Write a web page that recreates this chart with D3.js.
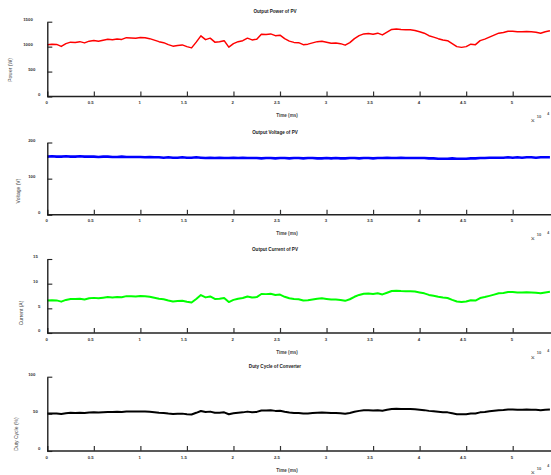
<!DOCTYPE html>
<html>
<head>
<meta charset="utf-8">
<script src="https://cdn.jsdelivr.net/npm/d3@7"></script>
<style>
body { margin: 0; background: #fff; }
svg { display: block; font-family: "Liberation Sans", Arial, sans-serif; }
</style>
</head>
<body>
<svg id="chart" width="551" height="475"></svg>
<script>
// time axis is in units of 10^4 ms, samples every 0.05
const timeTicks = [0, 0.5, 1, 1.5, 2, 2.5, 3, 3.5, 4, 4.5, 5];
const sampleStep = 0.05;

const power = [
    1040, 1050, 1045, 1005, 1060, 1090, 1085, 1100, 1075, 1110, 1125,
    1110, 1130, 1150, 1140, 1155, 1145, 1180, 1175, 1170, 1185,
    1180, 1160, 1130, 1100, 1080, 1040, 1010, 1025, 1035, 1000,
    975, 1090, 1215, 1140, 1170, 1090, 1100, 1120, 990, 1060,
    1100, 1120, 1170, 1135, 1150, 1250, 1245, 1255, 1220, 1230,
    1160, 1110, 1085, 1080, 1040, 1050, 1075, 1100, 1110, 1090,
    1070, 1075, 1060, 1030, 1080, 1160, 1220, 1255, 1265, 1250,
    1270, 1235, 1290, 1345, 1355, 1345, 1340, 1340, 1325, 1300,
    1270, 1220, 1190, 1160, 1135, 1120, 1060, 1000, 985, 1000,
    1050, 1040, 1120, 1150, 1190, 1230, 1270, 1285, 1310, 1310,
    1300, 1300, 1305, 1300, 1290, 1270, 1300, 1320
];

const voltage = [
    161, 162, 161, 161, 162, 161, 161, 162, 161, 161, 161,
    160, 161, 161, 160, 160, 161, 160, 160, 160, 160,
    159, 160, 159, 159, 158, 159, 158, 158, 159, 158,
    158, 159, 158, 157, 158, 157, 158, 157, 157, 158,
    157, 158, 157, 157, 157, 156, 157, 157, 156, 157,
    157, 156, 157, 157, 156, 157, 157, 156, 156, 157,
    156, 157, 156, 156, 157, 157, 156, 157, 157, 156,
    157, 157, 158, 157, 157, 158, 157, 157, 157, 157,
    157, 156, 156, 155, 155, 155, 156, 155, 155, 155,
    156, 156, 157, 157, 158, 158, 158, 158, 159, 158,
    159, 158, 159, 159, 158, 159, 159, 159
];

const current = [
    6.58, 6.65, 6.61, 6.36, 6.71, 6.90, 6.87, 6.96, 6.80, 7.03, 7.12,
    7.03, 7.15, 7.28, 7.22, 7.31, 7.25, 7.47, 7.44, 7.41, 7.50,
    7.47, 7.34, 7.15, 6.96, 6.84, 6.58, 6.39, 6.49, 6.55, 6.33,
    6.17, 6.90, 7.69, 7.22, 7.41, 6.90, 6.96, 7.09, 6.27, 6.71,
    6.96, 7.09, 7.41, 7.18, 7.28, 7.91, 7.88, 7.94, 7.72, 7.78,
    7.34, 7.03, 6.87, 6.84, 6.58, 6.65, 6.80, 6.96, 7.03, 6.90,
    6.77, 6.80, 6.71, 6.52, 6.84, 7.34, 7.72, 7.94, 8.01, 7.91,
    8.04, 7.82, 8.16, 8.51, 8.58, 8.51, 8.48, 8.48, 8.39, 8.23,
    8.04, 7.72, 7.53, 7.34, 7.18, 7.09, 6.71, 6.40, 6.30, 6.40,
    6.65, 6.58, 7.09, 7.28, 7.53, 7.78, 8.04, 8.13, 8.29, 8.29,
    8.23, 8.23, 8.26, 8.23, 8.16, 8.04, 8.23, 8.35
];

const duty = [
    50.4, 50.6, 50.5, 49.7, 50.8, 51.4, 51.3, 51.6, 51.1, 51.8, 52.1,
    51.8, 52.2, 52.6, 52.4, 52.7, 52.5, 53.2, 53.1, 53.0, 53.3,
    53.2, 52.8, 52.2, 51.6, 51.2, 50.4, 49.8, 50.1, 50.3, 49.6,
    49.1, 51.4, 53.9, 52.4, 53.0, 51.4, 51.6, 52.0, 49.4, 50.8,
    51.6, 52.0, 53.0, 52.3, 52.6, 54.6, 54.5, 54.7, 54.0, 54.2,
    52.8, 51.8, 51.3, 51.2, 50.4, 50.6, 51.1, 51.6, 51.8, 51.4,
    51.0, 51.1, 50.8, 50.2, 51.2, 52.8, 54.0, 54.7, 54.9, 54.6,
    55.0, 54.3, 55.4, 56.5, 56.7, 56.5, 56.4, 56.4, 56.1, 55.6,
    55.0, 54.0, 53.4, 52.8, 52.3, 52.0, 50.8, 49.6, 49.3, 49.6,
    50.6, 50.4, 52.0, 52.6, 53.4, 54.2, 55.0, 55.3, 55.8, 55.8,
    55.6, 55.6, 55.7, 55.6, 55.4, 55.0, 55.6, 56.0
];

const titles = ["Output Power of PV", "Output Voltage of PV", "Output Current of PV", "Duty Cycle of Converter"];
const yLabels = ["Power (W)", "Voltage (V)", "Current (A)", "Duty Cycle (%)"];
const yDomains = [[0, 1500], [0, 200], [0, 15], [0, 100]];
const yTicks = [[0, 500, 1000, 1500], [0, 100, 200], [0, 5, 10, 15], [0, 50, 100]];

const times = power.map((d, i) => i * sampleStep);

const panels = [
    { values: power,   color: "#ff0000", width: 1.5, top: 21.7,  bottom: 96.5,  ylab: [10.5, 70],  exp: 0 },
    { values: voltage, color: "#0000ff", width: 2.6, top: 142.5, bottom: 214.8, ylab: [18, 191],   exp: 0 },
    { values: current, color: "#00ff00", width: 2.0, top: 259,   bottom: 333,   ylab: [21, 313],   exp: 0 },
    { values: duty,    color: "#000000", width: 2.0, top: 376.7, bottom: 451,   ylab: [16.5, 434], exp: -2.5 }
];

const svg = d3.select("#chart");

const x = d3.scaleLinear().domain([0, 5]).range([47.3, 512.7]);
const plain = d3.format("");

panels.forEach((p, i) => {
    const y = d3.scaleLinear().domain(yDomains[i]).range([p.bottom, p.top]);
    const g = svg.append("g");

    // data line
    const line = d3.line()
        .x((d, j) => x(times[j]))
        .y(d => y(d));
    g.append("path")
        .datum(p.values)
        .attr("fill", "none")
        .attr("stroke", p.color)
        .attr("stroke-width", p.width)
        .attr("stroke-linejoin", "round")
        .attr("d", line);

    // x axis
    const xAxis = g.append("g")
        .attr("transform", `translate(0,${p.bottom})`)
        .call(d3.axisBottom(x).tickValues(timeTicks).tickSize(-5).tickSizeOuter(0).tickFormat(plain));
    xAxis.select(".domain")
        .attr("d", `M${x.range()[0]},0H551`)
        .attr("stroke", "#222")
        .attr("stroke-width", 1.6);
    xAxis.selectAll(".tick line").attr("stroke", "#333").attr("stroke-width", 1.2);
    xAxis.selectAll(".tick text")
        .attr("y", 0)
        .attr("dy", 0)
        .attr("transform", "translate(0,7.5)")
        .attr("x", d => -1.2 * String(d).length)
        .attr("font-size", 4.3)
        .attr("font-weight", "bold")
        .attr("fill", "#333");

    // y axis
    const yAxis = g.append("g")
        .attr("transform", `translate(${x.range()[0]},0)`)
        .call(d3.axisLeft(y).tickValues(yTicks[i]).tickSize(-5).tickSizeOuter(0).tickFormat(plain));
    yAxis.select(".domain").attr("stroke", "#111").attr("stroke-width", 1.3);
    yAxis.selectAll(".tick line").attr("stroke", "#222").attr("stroke-width", 1.1);
    yAxis.selectAll(".tick text")
        .attr("text-anchor", "middle")
        .attr("x", d => 43 - 3.75 * String(d).length - x.range()[0])
        .attr("dy", -1.2)
        .attr("font-size", 4.3)
        .attr("font-weight", "bold")
        .attr("fill", "#333");
    g.selectAll(".domain, .tick, .tick text").attr("font-family", null);

    // title
    g.append("text")
        .attr("x", 275)
        .attr("y", p.top - 8.5)
        .attr("text-anchor", "middle")
        .attr("font-size", 4.6)
        .attr("font-weight", "bold")
        .attr("fill", "#222")
        .text(titles[i]);

    // x label
    g.append("text")
        .attr("x", 287)
        .attr("y", p.bottom + 20.5)
        .attr("text-anchor", "middle")
        .attr("font-size", 4.6)
        .attr("font-weight", "bold")
        .attr("fill", "#444")
        .text("Time (ms)");

    // y label
    g.append("text")
        .attr("transform", `translate(${p.ylab[0] + 1.5},${p.ylab[1]}) rotate(-90)`)
        .attr("text-anchor", "middle")
        .attr("font-size", 5)
        .attr("fill", "#444")
        .text(yLabels[i]);

    // exponent marker
    const ex = g.append("g").attr("fill", "#555")
        .attr("transform", `translate(0,${p.exp})`);
    ex.append("text")
        .attr("x", 532.7)
        .attr("y", p.bottom + 26.5)
        .attr("text-anchor", "middle")
        .attr("font-size", 7)
        .text("\u00d7");
    ex.append("text")
        .attr("x", 536.7)
        .attr("y", p.bottom + 21.2)
        .attr("font-size", 4)
        .attr("font-weight", "bold")
        .text("10");
    ex.append("text")
        .attr("x", 547.3)
        .attr("y", p.bottom + 18.8)
        .attr("font-size", 3.5)
        .attr("font-weight", "bold")
        .text("4");
});
</script>
</body>
</html>
